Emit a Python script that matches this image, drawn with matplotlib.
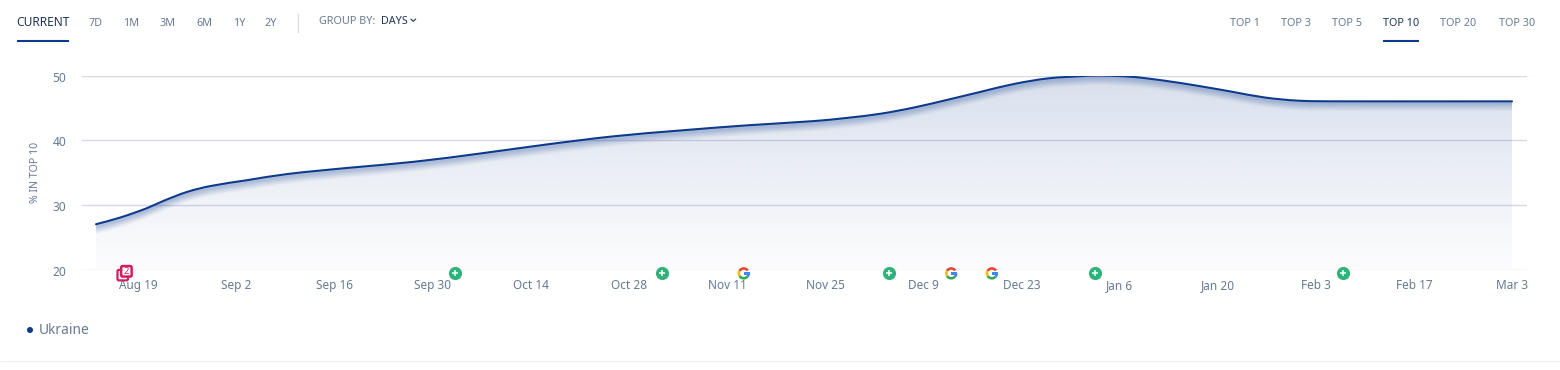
import numpy as np
import matplotlib
matplotlib.use("Agg")
import matplotlib.pyplot as plt
from matplotlib.patches import Wedge, Rectangle, FancyBboxPatch, Circle
from matplotlib.lines import Line2D
from matplotlib.path import Path
from matplotlib.patches import PathPatch
from matplotlib.transforms import IdentityTransform, ScaledTranslation

plt.rcParams['font.family'] = ['Noto Sans', 'DejaVu Sans']

W, H = 1560, 370

# ---- data ----
days = [0, 3.5, 7.3, 9.6, 13, 16.3, 21.5, 27.2, 35.8, 45.3, 54.9, 64.4, 73.9, 83.4,
        93, 102.4, 107.2, 112, 116.7, 121.5, 126.3, 131, 135.8, 140.6, 143,
        147.7, 152.4, 157.2, 162, 166.7, 171.6, 177.7, 202]
pct = [27.0, 28.05, 29.5, 30.6, 32.0, 32.9, 33.8, 34.75, 35.7, 36.65, 37.95, 39.35, 40.6, 41.5,
       42.3, 42.95, 43.45, 44.1, 45.05, 46.25, 47.5, 48.7, 49.55, 49.9, 50.0,
       49.8, 49.2, 48.4, 47.5, 46.6, 46.1, 46.0, 46.0]
tick_days = [6, 20, 34, 48, 62, 76, 90, 104, 118, 132, 146, 160, 174, 188, 202]
tick_labels = ['Aug 19', 'Sep 2', 'Sep 16', 'Sep 30', 'Oct 14', 'Oct 28', 'Nov 11', 'Nov 25',
               'Dec 9', 'Dec 23', 'Jan 6', 'Jan 20', 'Feb 3', 'Feb 17', 'Mar 3']
y_ticks = [20, 30, 40, 50]
plus_days = [51.2, 80.8, 113.1, 142.5, 177.9]
google_days = [92.4, 122.0, 127.8]
badge_days = [4.1]
periods = ['7D', '1M', '3M', '6M', '1Y', '2Y']
period_x = [96, 131, 167, 204, 239, 271]
tops = ['TOP 1', 'TOP 3', 'TOP 5', 'TOP 10', 'TOP 20', 'TOP 30']
top_x = [1245.5, 1296, 1347, 1401, 1458.5, 1517]
series_name = 'Ukraine'
y_label = '% IN TOP 10'
event_y = 19.4

NAVY = '#0d3a8c'
GREY = '#667a94'
DARK = '#1f3557'
GRID = '#d8d9e7'

fig = plt.figure(figsize=(W / 100, H / 100), dpi=100, facecolor='white')
T, B = 75.5, 269.5
L, R = 82, 1527
ax = fig.add_axes([L / W, 1 - B / H, (R - L) / W, (B - T) / H])
ax.set_xlim(-2.0, 204.14)
ax.set_ylim(20, 50)
for s in ax.spines.values():
    s.set_visible(False)
ax.set_yticks(y_ticks)
ax.set_yticklabels([str(v) for v in y_ticks], fontsize=8.6, color=GREY)
ax.set_xticks(tick_days)
ax.set_xticklabels(tick_labels, fontsize=8.5, color=GREY)
ax.tick_params(axis='both', length=0)
ax.tick_params(axis='y', pad=11.5)
ax.tick_params(axis='x', pad=7)
for lb in ax.get_yticklabels():
    lb.set_transform(lb.get_transform() + ScaledTranslation(0, -0.8 / 72, fig.dpi_scale_trans))
ax.grid(axis='y', color=GRID, lw=1)
ax.set_axisbelow(True)


def smooth_path(xs, ys, close_base=None):
    """Cubic path through the read values (tangents from neighbouring values)."""
    xs, ys = np.asarray(xs, float), np.asarray(ys, float)
    m = np.gradient(ys, xs)
    m[1:-1] = (ys[2:] - ys[:-2]) / (xs[2:] - xs[:-2])
    m[-1] = 0
    verts = [(xs[0], ys[0])]
    codes = [Path.MOVETO]
    for i in range(len(xs) - 1):
        h = (xs[i + 1] - xs[i]) / 3
        if i == len(xs) - 2:
            h = min(h, 3)
        verts += [(xs[i] + h, ys[i] + m[i] * h), (xs[i + 1] - h, ys[i + 1] - m[i + 1] * h),
                  (xs[i + 1], ys[i + 1])]
        codes += [Path.CURVE4] * 3
    if close_base is not None:
        verts += [(xs[-1], close_base), (xs[0], close_base), (xs[0], ys[0])]
        codes += [Path.LINETO, Path.LINETO, Path.CLOSEPOLY]
    return Path(verts, codes)


line_path = smooth_path(days, pct)
area_path = smooth_path(days, pct, close_base=20)

# gradient area
clip = PathPatch(area_path, transform=ax.transData, fc='none', ec='none')
ax.add_patch(clip)
grad = np.zeros((256, 1, 4))
grad[..., 0], grad[..., 1], grad[..., 2] = 13 / 255, 58 / 255, 140 / 255
grad[..., 3] = np.linspace(0.16, 0.012, 256)[:, None]
im = ax.imshow(grad, extent=[-2, 204.14, 20, 50], origin='upper', aspect='auto', zorder=1.5)
im.set_clip_path(clip)
ax.set_xlim(-2.0, 204.14)
ax.set_ylim(20, 50)

# soft shadow below the line
for dy, a in zip(np.arange(1, 10), [.11, .11, .10, .09, .07, .055, .04, .025, .012]):
    off = ax.transData + ScaledTranslation(0, -dy * 0.72 / 72, fig.dpi_scale_trans)
    ax.add_patch(PathPatch(line_path, fc='none', ec=NAVY, lw=2.0, alpha=a, transform=off, zorder=2,
                           capstyle='butt'))
ax.add_patch(PathPatch(line_path, fc='none', ec=NAVY, lw=1.5, zorder=3, capstyle='round',
                       joinstyle='round'))

# event markers
ax.scatter(plus_days, [event_y] * len(plus_days), s=90, color='#30b27c', clip_on=False, zorder=5,
           linewidths=0)
ax.scatter(plus_days, [event_y] * len(plus_days), s=20, marker='+', color='white', clip_on=False,
           zorder=6, linewidths=1.1)


def px(day, val):
    return ax.transData.transform((day, val))


fig.canvas.draw()
idt = IdentityTransform()
for d in google_days:
    cx, cy = px(d, event_y)
    r, w = 6.2, 2.6
    for t1, t2, c in [(35, 150, '#ea4335'), (150, 212, '#fbbc05'), (212, 318, '#34a853'),
                      (318, 360, '#4285f4')]:
        fig.add_artist(Wedge((cx, cy), r, t1, t2, width=w, fc=c, ec='none', transform=idt, zorder=7))
    fig.add_artist(Rectangle((cx - 0.2, cy - 1.2), r + 0.2, 2.4, fc='#4285f4', ec='none',
                             transform=idt, zorder=7))

CRIM = '#d1205f'
for d in badge_days:
    cx, cy = px(d, event_y)
    fig.add_artist(FancyBboxPatch((cx - 7.3, cy - 7), 10.5, 10.5, boxstyle='round,pad=0,rounding_size=1.5',
                                  fc='white', ec=CRIM, lw=1.6, transform=idt, zorder=7))
    fig.add_artist(FancyBboxPatch((cx - 3.6, cy - 3.2), 10.5, 10.5, boxstyle='round,pad=0,rounding_size=1.5',
                                  fc='white', ec=CRIM, lw=1.8, transform=idt, zorder=7))
    fig.text((cx + 1.65) / W, (cy + 2.0) / H, '2', fontsize=6.8, fontweight='bold', color=CRIM,
             ha='center', va='center', zorder=8)


def t(x, y, s, **kw):
    kw.setdefault('va', 'center')
    kw.setdefault('ha', 'center')
    kw.setdefault('fontsize', 7.8)
    kw.setdefault('color', GREY)
    return fig.text(x / W, 1 - y / H, s, **kw)


def hline(x0, x1, y, c, lw):
    fig.add_artist(Line2D([x0 / W, x1 / W], [1 - y / H, 1 - y / H], color=c, lw=lw,
                          solid_capstyle='butt'))


# header
t(43, 23, 'CURRENT', color=DARK, fontsize=8.6)
hline(17, 69, 41, NAVY, 1.5)
for s, x in zip(periods, period_x):
    t(x, 23, s)
fig.add_artist(Line2D([298 / W, 298 / W], [1 - 14 / H, 1 - 32 / H], color=GRID, lw=0.9))
t(319, 21, 'GROUP BY:', ha='left')
t(380.5, 21, 'DAYS', ha='left', color=DARK)
fig.add_artist(Line2D([411 / W, 413.3 / W, 415.6 / W], [1 - 19.2 / H, 1 - 21.3 / H, 1 - 19.2 / H],
                      color=DARK, lw=0.8))
for s, x in zip(tops, top_x):
    t(x, 23, s, color=DARK if s == 'TOP 10' else GREY)
hline(1383, 1419, 41, NAVY, 1.5)

# axis label, legend, footer rule
t(36, 172, y_label, rotation=90, fontsize=7.6)
fig.add_artist(Circle((30, H - 330), 3, fc=NAVY, ec='none', transform=idt))
t(39, 330.5, series_name, ha='left', fontsize=10)
hline(0, W, 361, '#eff0f2', 1)

fig.savefig('out.png', dpi=100, facecolor='white')
